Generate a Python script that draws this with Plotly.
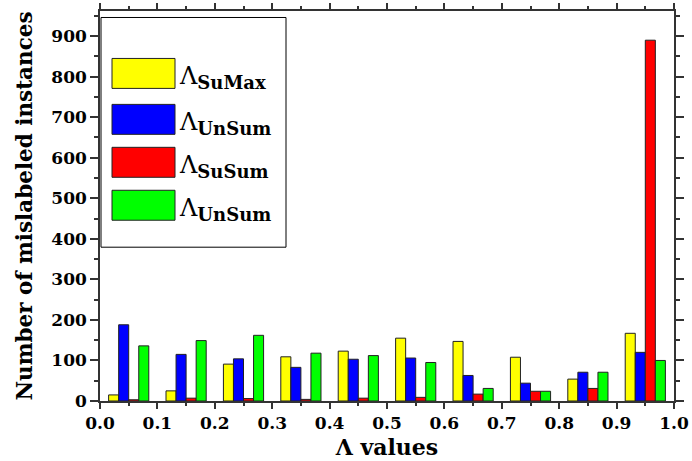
import plotly.graph_objects as go

bins = [0.05, 0.15, 0.25, 0.35, 0.45, 0.55, 0.65, 0.75, 0.85, 0.95]
su_max = [15, 25, 91, 109, 123, 155, 147, 108, 54, 167]
un_sum = [188, 115, 104, 83, 103, 106, 63, 44, 71, 120]
su_sum = [3, 7, 6, 4, 7, 9, 17, 24, 31, 890]
un_sum2 = [136, 149, 162, 118, 112, 95, 31, 24, 71, 100]

names = ["Λ<sub>SuMax</sub>", "Λ<sub>UnSum</sub>", "Λ<sub>SuSum</sub>", "Λ<sub>UnSum</sub>"]
sub_names = ["SuMax", "UnSum", "SuSum", "UnSum"]
colors = ["#FFFF00", "#0000FF", "#FF0000", "#00FF00"]
series = [su_max, un_sum, su_sum, un_sum2]

W, H = 692, 461
L, R, T, B = 100, 18, 10.5, 60
FONT = "DejaVu Serif"

fig = go.Figure()
for nm, col, vals in zip(names, colors, series):
    fig.add_trace(go.Bar(x=bins, y=vals, name=nm, marker=dict(color=col, line=dict(color="#222", width=1)),
                         showlegend=False))

pw = W - L - R
ph = H - T - B
def px(x):
    return (x - L) / pw
def py(y):
    return (H - B - y) / ph

shapes = [dict(type="rect", xref="paper", yref="paper", x0=px(101), x1=px(286), y0=py(247), y1=py(17),
               line=dict(color="black", width=1), fillcolor="white", layer="above")]
annotations = []
rows = [(58, 88), (104, 134), (147, 177), (190, 220)]
for (y0, y1), col, sn in zip(rows, colors, sub_names):
    shapes.append(dict(type="rect", xref="paper", yref="paper", x0=px(112), x1=px(175), y0=py(y1), y1=py(y0),
                       line=dict(color="#222", width=1), fillcolor=col, layer="above"))
    annotations.append(dict(xref="paper", yref="paper", x=px(177), y=py((y0 + y1) / 2 + 4), xanchor="left",
                            yanchor="middle", showarrow=False,
                            text="Λ<sub><b><span style='font-size:18px'>%s</span></b></sub>" % sn,
                            font=dict(family=FONT, size=24, color="black")))

axcol = "#333"
fig.update_layout(
    width=W, height=H,
    margin=dict(l=L, r=R, t=T, b=B, autoexpand=False),
    paper_bgcolor="white", plot_bgcolor="white",
    barmode="group", bargap=0.3, bargroupgap=0,
    font=dict(family=FONT, color="black"),
    shapes=shapes, annotations=annotations,
    xaxis=dict(range=[0, 1], dtick=0.1, tickformat=".1f", ticks="outside", ticklen=6, tickwidth=1.5,
               tickcolor=axcol, showline=True, mirror="allticks", linecolor=axcol, linewidth=1.5, showgrid=False,
               zeroline=False, automargin=False,
               minor=dict(dtick=0.05, ticks="outside", ticklen=3, tickcolor=axcol, tickwidth=1.5),
               tickfont=dict(family=FONT, size=17, weight="bold"),
               title=dict(text="Λ values", font=dict(family=FONT, size=22, weight="bold"), standoff=7)),
    yaxis=dict(range=[0, 962], dtick=100, ticks="outside", ticklen=8, tickwidth=1.5,
               tickcolor=axcol, showline=True, mirror="allticks", linecolor=axcol, linewidth=1.5, showgrid=False,
               zeroline=False, automargin=False,
               minor=dict(dtick=50, ticks="outside", ticklen=4, tickcolor=axcol, tickwidth=1.5),
               tickfont=dict(family=FONT, size=17, weight="bold"),
               title=dict(text="Number of mislabeled instances", font=dict(family=FONT, size=21.5, weight="bold"),
                          standoff=13)),
)
fig.write_html("out.html", post_script="document.body.style.margin='0';",
               config={"displayModeBar": False})
